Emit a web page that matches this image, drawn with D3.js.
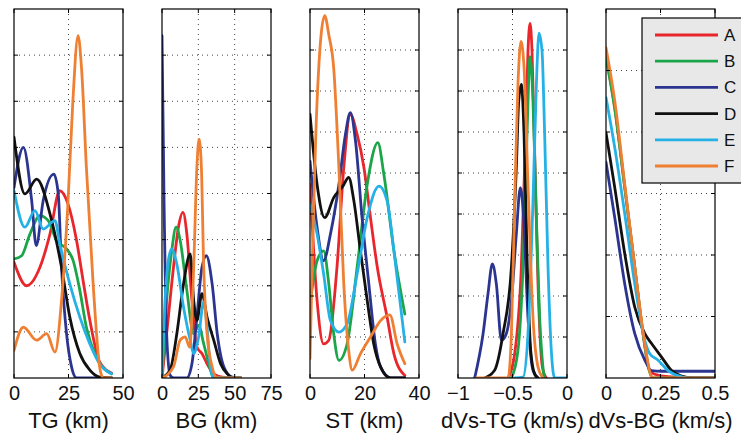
<!DOCTYPE html>
<html><head><meta charset="utf-8">
<script src="https://cdn.jsdelivr.net/npm/d3@7"></script>
<style>body{margin:0;background:#fff}svg{display:block}</style>
</head><body>
<svg id="c" width="741" height="436"></svg>
<script>
// ---------- data (density, arbitrary grid units) ----------
const seriesNames = ["A","B","C","D","E","F"];
const seriesColors = ["#e8262b","#1ba548","#2b3590","#111111","#25b1e6","#ef8033"];

const panelTitles = ["TG (km)","BG (km)","ST (km)","dVs-TG (km/s)","dVs-BG (km/s)"];
const panelXDomains = [[0,50],[0,75],[0,40],[-1,0],[0,0.5]];
const panelXTicks = [[0,25,50],[0,25,50,75],[0,20,40],[-1,-0.5,0],[0,0.25,0.5]];
const panelXTickLabels = [["0","25","50"],["0","25","50","75"],["0","20","40"],["\u22121","\u22120.5","0"],["0","0.25","0.5"]];
const panelYMax = [8,8,9,9,6];

// Panel 1: TG
const TG_A = [[0,2.51],[5.8,2.0],[11.9,2.4],[16.5,3.12],[21,4.06],[24.8,3.77],[28.7,2.98],[31.7,2.11],[34.8,1.25],[39.3,0.35],[44.7,0.11]];
const TG_B = [[0,2.58],[3.5,2.65],[7.3,3.12],[11.9,3.52],[15.7,3.41],[19.5,2.98],[24.1,2.8],[27.1,2.55],[30.2,1.9],[33.2,1.1],[37.8,0.45],[44.7,0.09]];
const TG_C = [[0,4.13],[4.3,5.0],[8.1,3.85],[10.2,2.87],[13.4,3.85],[18.3,4.42],[20.3,3.99],[21.8,2.4],[24.1,0.96],[26.4,0.24],[28.7,0],[44.7,0]];
const TG_D = [[0,5.22],[5,3.99],[10.4,4.31],[16.5,3.56],[21.8,2.4],[25.6,1.32],[30.2,0.53],[34.8,0.17],[39.3,0.02],[44.7,0]];
const TG_E = [[0,4.06],[5,3.27],[9.6,3.63],[13.4,3.23],[18.8,3.41],[21,2.91],[25.6,2.04],[30.2,1.32],[34.8,0.74],[39.3,0.31],[44.7,0.09]];
const TG_F = [[0,0.6],[4.3,1.1],[10.4,0.82],[15,0.96],[18.8,0.56],[21.8,1.68],[24.8,3.85],[27,6.0],[29.4,7.42],[31,6.7],[33.2,4.57],[36.3,2.04],[39.3,0.24],[40.9,0],[44.7,0]];

// Panel 2: BG
const BG_A = [[0,0],[3.2,0.96],[7.9,2.4],[11.3,3.27],[14.4,3.59],[17.1,3.12],[20.6,1.68],[24,0.67],[27.5,0.53],[31,0.31],[35.6,0.09],[41.4,0.02],[54,0]];
const BG_B = [[0,0],[3.2,1.68],[6.7,2.76],[9.7,3.27],[12.5,2.98],[17.1,1.9],[21.8,0.96],[25.2,1.14],[28.7,0.74],[32.2,0.31],[35.6,0],[54,0]];
const BG_C = [[0,7.42],[1.4,3.85],[3.2,0.96],[5.6,0.06],[8,0],[17,0],[20.6,0.31],[24,1.32],[27.5,2.4],[30.5,2.65],[34.5,2.04],[38,0.96],[42.6,0.24],[48.4,0.02],[54,0]];
const BG_D = [[0,0],[5.6,0.17],[10.2,0.96],[14.8,2.04],[19.4,2.69],[21.8,1.68],[24,1.25],[27.5,1.83],[31,1.32],[35.6,0.82],[40.3,0.31],[44.9,0.09],[49.5,0],[54,0]];
const BG_E = [[0,0],[2.1,1.68],[4.4,2.55],[6.7,2.8],[10.2,2.47],[14.8,1.54],[19.4,0.82],[21.8,0.53],[25.2,0.89],[28.7,1.65],[31,1.1],[33.3,0.24],[35.6,0],[54,0]];
const BG_F = [[0,0],[7.9,0.24],[12.5,0.82],[16,0.89],[19,0.67],[21.8,2.4],[24,4.57],[25.5,5.18],[27.1,4.57],[28.7,2.4],[31,0.96],[34.5,0.24],[38,0],[54,0]];

// Panel 3: ST
const ST_A = [[0,4.72],[2.6,1.89],[5,0.83],[6.9,0.92],[9.9,2.7],[12.4,5.13],[14.8,6.43],[17.3,5.94],[19.8,5.13],[22.2,3.91],[24.7,2.7],[28.3,1.48],[30.8,0.59],[34.8,0.06]];
const ST_B = [[0,1.81],[2.6,2.86],[5,3.1],[6.9,2.29],[8.7,1.08],[10.6,0.43],[13.6,0.83],[17.3,2.7],[21,4.72],[24.9,5.74],[27.1,4.97],[30.8,3.1],[34.8,1.56]];
const ST_C = [[0,5.29],[2.6,3.67],[5,2.86],[7.5,3.51],[10.6,4.72],[13,5.94],[14.8,6.47],[16.7,5.78],[19.1,3.91],[21.6,2.29],[24,0.83],[25.9,0.27],[29.6,0],[34.8,0]];
const ST_D = [[0,6.43],[2.6,4.72],[5.4,3.91],[8.7,4.4],[12.1,4.68],[14.2,4.89],[16.1,4.32],[18.5,3.1],[21,1.89],[23.4,0.83],[25.9,0.27],[29.6,0],[34.8,0]];
const ST_E = [[0,4.24],[2.6,3.51],[5,2.54],[7.5,1.4],[10.6,1.12],[13.6,1.32],[17.3,2.54],[21,3.91],[25.3,4.68],[28.3,4.32],[30.8,3.1],[34.8,0.88]];
const ST_F = [[0,0.47],[2.6,6.75],[5.4,8.84],[6.9,8.37],[8.7,7.56],[10.6,5.13],[12.4,2.29],[14.2,0.67],[15.5,0.19],[18.5,0.59],[22.2,1.0],[25.9,1.4],[29.3,1.54],[32,0.83],[34.8,0.35]];

// Panel 4: dVs-TG
const DT_A = [[-0.54,0],[-0.48,0.59],[-0.419,2.7],[-0.379,5.94],[-0.358,7.97],[-0.339,8.65],[-0.321,7.97],[-0.297,5.53],[-0.266,2.29],[-0.226,0.27],[-0.19,0]];
const DT_B = [[-0.51,0],[-0.45,0.67],[-0.404,2.7],[-0.367,5.94],[-0.339,7.84],[-0.312,6.75],[-0.281,3.91],[-0.251,1.48],[-0.211,0]];
const DT_C = [[-0.847,0],[-0.77,1.08],[-0.725,2.05],[-0.685,2.78],[-0.648,2.29],[-0.602,0.92],[-0.557,1.08],[-0.51,1.89],[-0.465,3.51],[-0.428,4.64],[-0.398,3.91],[-0.358,1.48],[-0.312,0.19],[-0.266,0]];
const DT_D = [[-0.755,0],[-0.664,0.19],[-0.587,1.08],[-0.51,2.7],[-0.465,5.13],[-0.443,6.75],[-0.419,7.16],[-0.394,5.94],[-0.364,2.7],[-0.333,0.67],[-0.297,0.1],[-0.266,0]];
const DT_E = [[-0.48,0],[-0.404,0.02],[-0.358,1.08],[-0.312,4.32],[-0.281,7.16],[-0.257,8.41],[-0.229,7.97],[-0.205,5.94],[-0.174,2.7],[-0.144,0.67],[-0.113,0],[0,0]];
const DT_F = [[-0.83,0],[-0.541,0],[-0.51,1.08],[-0.48,4.32],[-0.45,7.16],[-0.422,8.21],[-0.394,7.56],[-0.358,4.72],[-0.312,1.48],[-0.266,0.27],[-0.22,0]];

// Panel 5: dVs-BG
const DB_A = [[0,5.24],[0.04,4.4],[0.086,3.1],[0.132,1.8],[0.17,0.72],[0.2,0.12],[0.224,0.06],[0.285,0.02],[0.5,0]];
const DB_B = [[0,5.2],[0.04,4.38],[0.086,3.1],[0.132,1.8],[0.17,0.72],[0.2,0.1],[0.215,0],[0.5,0]];
const DB_C = [[0,3.51],[0.04,2.61],[0.086,1.53],[0.132,0.72],[0.178,0.29],[0.209,0.12],[0.255,0.11],[0.5,0.11]];
const DB_D = [[0,3.99],[0.04,3.1],[0.086,2.02],[0.132,1.15],[0.178,0.72],[0.209,0.56],[0.255,0.34],[0.301,0.12],[0.347,0.03],[0.393,0],[0.5,0]];
const DB_E = [[0,4.56],[0.04,3.75],[0.086,2.67],[0.132,1.53],[0.178,0.61],[0.2,0.4],[0.239,0.29],[0.285,0.12],[0.347,0.02],[0.4,0],[0.5,0]];
const DB_F = [[0,5.37],[0.04,4.51],[0.086,3.15],[0.132,1.8],[0.178,0.56],[0.209,0.02],[0.22,0],[0.5,0]];

const panelData = [
  [TG_A,TG_B,TG_C,TG_D,TG_E,TG_F],
  [BG_A,BG_B,BG_C,BG_D,BG_E,BG_F],
  [ST_A,ST_B,ST_C,ST_D,ST_E,ST_F],
  [DT_A,DT_B,DT_C,DT_D,DT_E,DT_F],
  [DB_A,DB_B,DB_C,DB_D,DB_E,DB_F]
];

// ---------- layout ----------
const svg = d3.select("#c");
const plotTop = 9, plotBottom = 378, pw = 109, step = 148, left0 = 14;
const font = "Arial, 'Liberation Sans', sans-serif";

panelData.forEach((series, i) => {
  const x0 = left0 + i*step;
  const x = d3.scaleLinear().domain(panelXDomains[i]).range([x0, x0+pw]);
  const y = d3.scaleLinear().domain([0, panelYMax[i]]).range([plotBottom, plotTop]);
  const g = svg.append("g");

  const clipId = "clip"+i;
  svg.append("clipPath").attr("id", clipId).append("rect")
    .attr("x", x0).attr("y", plotTop).attr("width", pw).attr("height", plotBottom-plotTop);

  // grid
  const yt = d3.range(1, panelYMax[i]);
  g.selectAll(".hg").data(yt).join("line")
    .attr("x1", x0).attr("x2", x0+pw).attr("y1", d=>y(d)).attr("y2", d=>y(d))
    .attr("stroke", "#444").attr("stroke-width", 1).attr("stroke-dasharray", "1,4");
  const xt = panelXTicks[i].slice(1, -1);
  g.selectAll(".vg").data(xt).join("line")
    .attr("x1", d=>x(d)).attr("x2", d=>x(d)).attr("y1", plotTop).attr("y2", plotBottom)
    .attr("stroke", "#444").attr("stroke-width", 1).attr("stroke-dasharray", "1,4");

  // curves
  const line = d3.line().x(d=>x(d[0])).y(d=>y(d[1])).curve(d3.curveMonotoneX);
  const cg = g.append("g").attr("clip-path", `url(#${clipId})`);
  series.forEach((pts, k) => {
    cg.append("path").attr("d", line(pts)).attr("fill", "none")
      .attr("stroke", seriesColors[k]).attr("stroke-width", 2.8)
      .attr("stroke-linejoin", "round").attr("stroke-linecap", "round");
  });

  // tick marks (inward)
  const tl = 4;
  panelXTicks[i].forEach(t => {
    g.append("line").attr("x1", x(t)).attr("x2", x(t)).attr("y1", plotBottom).attr("y2", plotBottom-tl).attr("stroke","#000");
    g.append("line").attr("x1", x(t)).attr("x2", x(t)).attr("y1", plotTop).attr("y2", plotTop+tl).attr("stroke","#000");
  });
  yt.forEach(t => {
    g.append("line").attr("x1", x0).attr("x2", x0+tl).attr("y1", y(t)).attr("y2", y(t)).attr("stroke","#000");
    g.append("line").attr("x1", x0+pw-tl).attr("x2", x0+pw).attr("y1", y(t)).attr("y2", y(t)).attr("stroke","#000");
  });

  // frame
  g.append("rect").attr("x", x0).attr("y", plotTop).attr("width", pw).attr("height", plotBottom-plotTop)
    .attr("fill", "none").attr("stroke", "#000").attr("stroke-width", 1.2);

  // tick labels
  const ax = d3.axisBottom(x).tickValues(panelXTicks[i]).tickFormat((d, j) => panelXTickLabels[i][j]).tickSize(0).tickPadding(0);
  const axg = g.append("g").attr("transform", `translate(0,${plotBottom})`).call(ax);
  axg.select(".domain").remove();
  axg.selectAll("text").attr("y", 22).attr("dy", 0).attr("font-size", 20).attr("font-family", font).attr("fill", "#111");

  // title
  g.append("text").attr("x", x0 + pw/2).attr("y", 428).attr("text-anchor", "middle")
    .attr("font-size", 22).attr("font-family", font).attr("fill", "#111").text(panelTitles[i]);
});

// legend
const lg = svg.append("g");
lg.append("rect").attr("x", 642).attr("y", 18).attr("width", 110).attr("height", 165)
  .attr("fill", "#e8e8e8").attr("stroke", "#000").attr("stroke-width", 1.2);
seriesNames.forEach((n, k) => {
  const yy = 35 + k*26.2;
  lg.append("line").attr("x1", 655).attr("x2", 718).attr("y1", yy).attr("y2", yy)
    .attr("stroke", seriesColors[k]).attr("stroke-width", 2.8);
  lg.append("text").attr("x", 724).attr("y", yy + 6).attr("font-size", 17)
    .attr("font-family", font).attr("fill", "#111").text(n);
});
</script>
</body></html>
